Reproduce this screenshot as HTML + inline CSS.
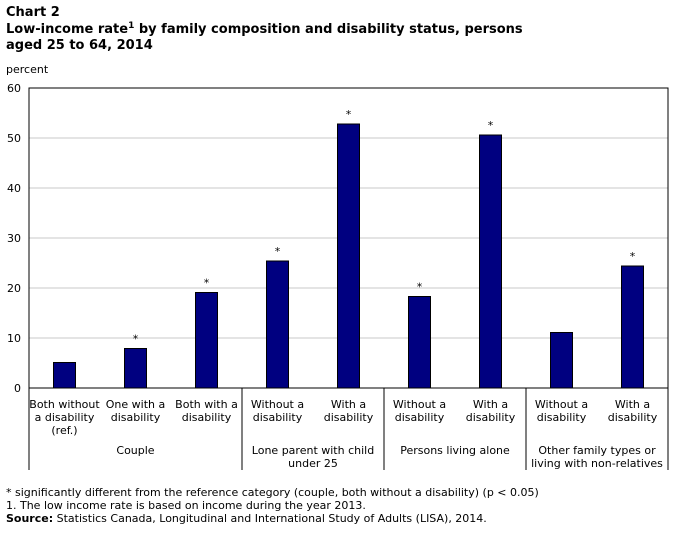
<!DOCTYPE html>
<html><head><meta charset="utf-8"><style>
body{margin:0;background:#fff;width:681px;height:531px;overflow:hidden}
svg{font-family:Verdana,"DejaVu Sans","Liberation Sans",sans-serif}
</style></head><body>
<svg id="c" width="681" height="531">
<text x="6" y="16" font-size="13" font-weight="bold">Chart 2</text>
<text x="6" y="33" font-size="13" font-weight="bold">Low-income rate<tspan font-size="9" dy="-5">1</tspan><tspan dy="5"> by family composition and disability status, persons</tspan></text>
<text x="6" y="49" font-size="13" font-weight="bold">aged 25 to 64, 2014</text>
<text x="6" y="73" font-size="11">percent</text>
<g id="grid"></g><g id="bars"></g><g id="xl"></g>
<text x="6" y="496" font-size="11">* significantly different from the reference category (couple, both without a disability) (p &lt; 0.05)</text>
<text x="6" y="509" font-size="11">1. The low income rate is based on income during the year 2013.</text>
<text x="6" y="522" font-size="11"><tspan font-weight="bold">Source:</tspan> Statistics Canada, Longitudinal and International Study of Adults (LISA), 2014.</text>
</svg>
<script>
const categories=[["Both without","a disability","(ref.)"],["One with a","disability"],["Both with a","disability"],["Without a","disability"],["With a","disability"],["Without a","disability"],["With a","disability"],["Without a","disability"],["With a","disability"]];
const values=[5.1,7.9,19.1,25.4,52.8,18.3,50.6,11.1,24.4];
const significant=[false,true,true,true,true,true,true,false,true];
const groups=[["Couple"],["Lone parent with child","under 25"],["Persons living alone"],["Other family types or","living with non-relatives"]];
const groupSizes=[3,2,2,2];
const yTicks=[0,10,20,30,40,50,60];
const NS="http://www.w3.org/2000/svg";
const L=29,R=668,T=88,B=388,YMAX=60;
const y=v=>B-(v/YMAX)*(B-T);
const bw=(R-L)/categories.length;
const x=i=>L+bw*i+bw/2;
function mk(tag,attrs,parent){const e=document.createElementNS(NS,tag);for(const k in attrs)e.setAttribute(k,attrs[k]);parent.appendChild(e);return e;}
const grid=document.getElementById('grid'),bars=document.getElementById('bars'),xl=document.getElementById('xl');
yTicks.forEach(t=>{
 if(t>0&&t<YMAX){const g=mk('line',{x1:L,x2:R,y1:y(t),y2:y(t),stroke:'#c8c8c8'},grid);
 
 }
 const tx=mk('text',{x:21,y:y(t)+4,'font-size':11,'text-anchor':'end'},grid);tx.textContent=t;
 
 
});
const fr=mk('rect',{x:L,y:T,width:R-L,height:B-T,fill:'none',stroke:'#000'},grid);


values.forEach((v,i)=>{
 const r=mk('rect',{x:x(i)-11,y:y(v),width:22,height:B-y(v),fill:'#000080',stroke:'#000','stroke-width':1},bars);
 
 
 if(significant[i]){const s=mk('text',{x:x(i),y:y(v)-6,'font-size':11,'text-anchor':'middle'},bars);s.textContent='*';
 
 }
 categories[i].forEach((ln,j)=>{const t=mk('text',{x:x(i),y:408+j*13,'font-size':11,'text-anchor':'middle'},xl);t.textContent=ln;
 
 });
});
let start=0;
groupSizes.forEach((n,g)=>{
 const x0=L+bw*start,x1=L+bw*(start+n);
 if(g>0){const ln=mk('line',{x1:x0,x2:x0,y1:B,y2:470,stroke:'#000'},xl);
 
 }
 groups[g].forEach((s,j)=>{const t=mk('text',{x:(x0+x1)/2,y:454+j*13,'font-size':11,'text-anchor':'middle'},xl);t.textContent=s;
 
 });
 start+=n;
});
const a1=mk('line',{x1:L,x2:L,y1:B,y2:470,stroke:'#000'},xl);


const a2=mk('line',{x1:R,x2:R,y1:B,y2:470,stroke:'#000'},xl);


</script>
</body></html>
